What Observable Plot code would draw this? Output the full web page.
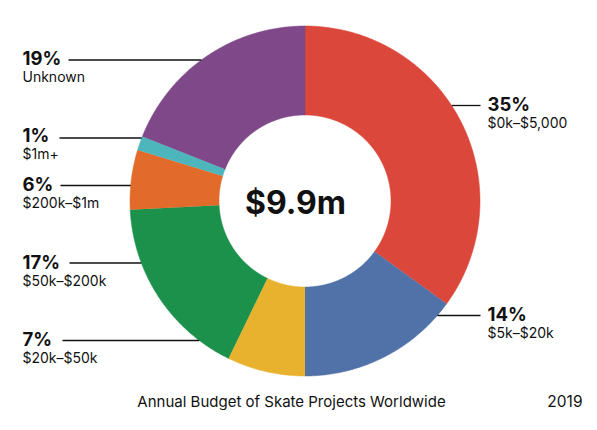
<!DOCTYPE html>
<html>
<head>
<meta charset="utf-8">
<script src="https://cdn.jsdelivr.net/npm/d3@7"></script>
<script src="https://cdn.jsdelivr.net/npm/@observablehq/plot@0.6"></script>
<style>
  html, body { margin: 0; padding: 0; background: #fff; }
  #chart svg { display: block; }
</style>
</head>
<body>
<div id="chart"></div>
<script>
// ---------- data ----------
const categories = ["$0k–$5,000", "$5k–$20k", "$20k–$50k", "$50k–$200k", "$200k–$1m", "$1m+", "Unknown"];
const shares = [35, 15, 7.2, 17, 5.5, 1.3, 19];
const pctLabels = ["35%", "14%", "7%", "17%", "6%", "1%", "19%"];
const colors = ["#dc473b", "#5072a9", "#e8b22e", "#1b914b", "#e26a2b", "#4cb6bc", "#7e4889"];
const totalLabel = "$9.9m";
const caption = "Annual Budget of Skate Projects Worldwide";
const yearLabel = "2019";

// ---------- layout ----------
const W = 597, H = 430;
const cx = 304.5, cy = 200.5, R0 = 175, R1 = 86;
const FONT = "Inter, 'Noto Sans', sans-serif";
// per-category label placement (side, text x, percent baseline, leader y, leader start for left side)
const labelLayout = [
  {side: "right", x: 487, y: 110, ly: 105},
  {side: "right", x: 487, y: 320, ly: 315},
  {side: "left", x: 22, y: 345.5, ly: 340, lx: 62},
  {side: "left", x: 22, y: 268.5, ly: 262.5, lx: 69},
  {side: "left", x: 22, y: 190, ly: 185, lx: 60},
  {side: "left", x: 22, y: 141, ly: 137.5, lx: 59},
  {side: "left", x: 22, y: 64.5, ly: 59.5, lx: 68}
];

// ---------- build ring polygons from shares ----------
const sum = d3.sum(shares);
const ring = [];
let acc = 0;
shares.forEach((v, i) => {
  const a0 = acc / sum * 2 * Math.PI;
  acc += v;
  const a1 = acc / sum * 2 * Math.PI;
  const n = Math.max(2, Math.ceil((a1 - a0) / (Math.PI / 360)));
  for (let k = 0; k <= n; k++) {
    const a = a0 + (a1 - a0) * k / n;
    ring.push({cat: categories[i], x: cx + R0 * Math.sin(a), y: cy - R0 * Math.cos(a)});
  }
  for (let k = n; k >= 0; k--) {
    const a = a0 + (a1 - a0) * k / n;
    ring.push({cat: categories[i], x: cx + R1 * Math.sin(a), y: cy - R1 * Math.cos(a)});
  }
});

const labels = categories.map((c, i) => {
  const L = labelLayout[i];
  const edge = Math.sqrt(R0 * R0 - (L.ly - cy) * (L.ly - cy));
  return {
    cat: c, pct: pctLabels[i], side: L.side, x: L.x, y: L.y, y2: L.y + 17, ly: L.ly,
    x1: L.side === "left" ? L.lx : cx + edge,
    x2: L.side === "left" ? cx - edge : 480
  };
});

const chart = Plot.plot({
  width: W, height: H,
  margin: 0,
  x: {domain: [0, W], range: [0, W], axis: null},
  y: {domain: [0, H], range: [0, H], axis: null},
  color: {domain: categories, range: colors},
  style: {fontFamily: FONT, background: "#fff", color: "#111"},
  marks: [
    Plot.line(ring, {x: "x", y: "y", z: "cat", fill: "cat", stroke: "cat", strokeWidth: 0.5, curve: "linear"}),
    Plot.link(labels, {x1: "x1", x2: "x2", y1: "ly", y2: "ly", stroke: "#111", strokeWidth: 1.3}),
    Plot.text(labels, {x: "x", y: "y", text: "pct", textAnchor: "start", lineAnchor: "bottom",
      fontSize: 18.5, fontWeight: 700, fill: "#111"}),
    Plot.text(labels, {x: "x", y: "y2", text: "cat", textAnchor: "start", lineAnchor: "bottom",
      fontSize: 14, fill: "#111", letterSpacing: "0.2px"}),
    Plot.text([totalLabel], {x: () => 295, y: () => 213.5, text: d => d, textAnchor: "middle", lineAnchor: "bottom",
      fontSize: 32, fontWeight: 700, fill: "#111"}),
    Plot.text([caption], {x: () => 291, y: () => 406.5, text: d => d, textAnchor: "middle", lineAnchor: "bottom",
      fontSize: 15, fill: "#111"}),
    Plot.text([yearLabel], {x: () => 582, y: () => 406.5, text: d => d, textAnchor: "end", lineAnchor: "bottom",
      fontSize: 15.5, fill: "#111"})
  ]
});
document.getElementById("chart").appendChild(chart);
</script>
</body>
</html>
